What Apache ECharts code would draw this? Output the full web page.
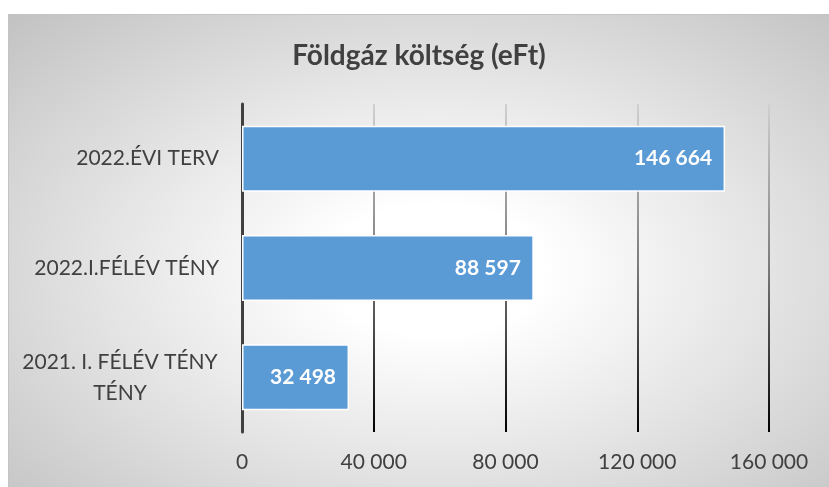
<html>
<head>
<meta charset="utf-8">
<script src="https://cdn.jsdelivr.net/npm/echarts@6/dist/echarts.min.js"></script>
<style>
    body {
        margin: 0;
        padding: 0;
        background: #fff;
    }
    #chart {
        position: absolute;
        left: 8px;
        top: 14px;
        width: 820px;
        height: 472px;
        border-left: 1px solid #c4c4c4;
        border-top: 1px solid #c4c4c4;
        background: radial-gradient(ellipse farthest-corner at 52% 54%, #ffffff 0%, #ffffff 18%, #e4e4e4 55%, #c2c2c2 100%);
    }
</style>
</head>
<body>
<div id="chart"></div>
<script type="text/javascript">
    var titleText = 'Földgáz költség (eFt)';
    var categories = ['2022.ÉVI TERV', '2022.I.FÉLÉV TÉNY', '2021. I. FÉLÉV TÉNY\nTÉNY'];
    var values = [146664, 88597, 32498];
    var axisMin = 0;
    var axisMax = 160000;
    var axisStep = 40000;

    // 12345 -> "12 345"
    function spaced(v) {
        return String(v).replace(/\B(?=(\d{3})+(?!\d))/g, ' ');
    }

    var chart = echarts.init(document.getElementById('chart'));

    var option = {
        backgroundColor: 'transparent',
        animation: false,
        textStyle: {
            fontFamily: 'Lato'
        },
        title: {
            text: titleText,
            left: 'center',
            top: 22,
            textStyle: {
                fontFamily: 'Lato',
                fontWeight: 'bold',
                fontSize: 28,
                color: '#404040'
            }
        },
        grid: {
            left: 233,
            right: 60,
            top: 89,
            bottom: 55,
            containLabel: false,
            outerBoundsMode: 'none'
        },
        xAxis: {
            type: 'value',
            min: axisMin,
            max: axisMax,
            interval: axisStep,
            axisLine: { show: false },
            axisTick: { show: false },
            axisLabel: {
                margin: 20,
                fontSize: 21,
                color: '#404040',
                formatter: spaced
            },
            splitLine: {
                show: true,
                lineStyle: {
                    width: 2,
                    color: {
                        type: 'linear',
                        x: 0, y: 89, x2: 0, y2: 418,
                        global: true,
                        colorStops: [
                            { offset: 0, color: '#d0d0d0' },
                            { offset: 0.5, color: '#7a7a7a' },
                            { offset: 1, color: '#000000' }
                        ]
                    }
                }
            }
        },
        yAxis: {
            type: 'category',
            inverse: true,
            data: categories,
            axisLine: {
                show: true,
                lineStyle: { color: '#404040', width: 3 }
            },
            axisTick: { show: false },
            axisLabel: {
                margin: 23,
                fontSize: 21,
                color: '#404040',
                lineHeight: 31,
                formatter: function (v) {
                    if (v.indexOf('\n') < 0) return v;
                    return v.split('\n').map(function (s) { return '{w|' + s + '}'; }).join('\n');
                },
                rich: {
                    w: {
                        fontSize: 21,
                        color: '#404040',
                        width: 198,
                        align: 'center',
                        lineHeight: 31
                    }
                }
            }
        },
        series: [{
            type: 'bar',
            data: values,
            barWidth: 66,
            itemStyle: {
                color: '#5b9bd5',
                borderColor: '#ffffff',
                borderWidth: 1.5
            },
            label: {
                show: true,
                position: 'insideRight',
                distance: 13,
                color: '#ffffff',
                fontWeight: 'bold',
                fontSize: 21,
                fontFamily: 'Lato',
                formatter: function (p) { return spaced(p.value); }
            }
        }]
    };

    chart.setOption(option);
</script>
</body>
</html>
